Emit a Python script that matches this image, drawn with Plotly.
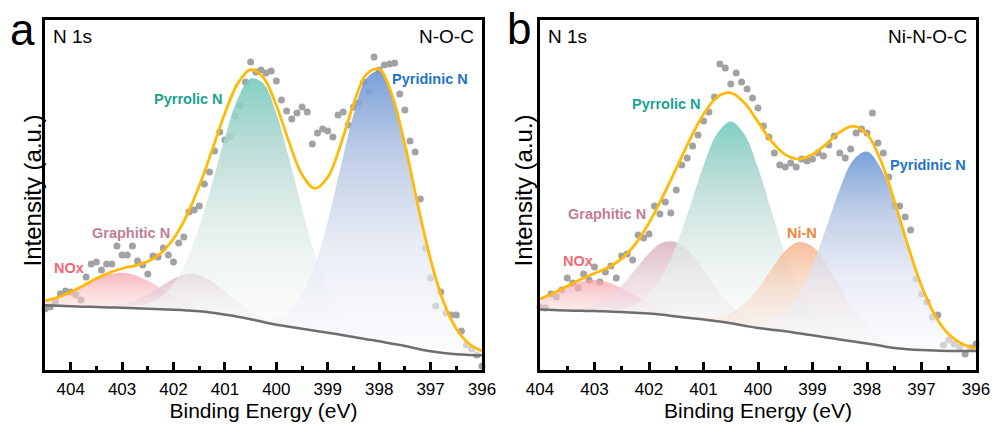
import numpy as np
import plotly.graph_objects as go

# ---------------- N 1s, N-O-C ----------------
# measured points, every 0.1 eV starting at 404.6 eV (high -> low BE)
noc_first_ev = 404.6
noc_counts = [72, 61, 63, 68, 76, 79, 78, 75, 70, 93,
              106, 108, 100, 106, 106, 124, 115, 115, 124, 109,
              105, 96, 114, 113, 122, 115, 108, 127, 133, 158,
              160, 164, 186, 198, 219, 238, 230, 234, 254, 264,
              288, 308, 298, 300, 297, 299, 289, 270, 259, 251,
              257, 263, 258, 226, 237, 241, 239, 233, 255, 258,
              245, 263, 267, 288, 278, 313, 300, 305, 306, 307,
              276, 260, 229, 218, 171, 122, 92, 64, 78, 57,
              55, 55, 39, 25, 21, 15, 4]
# Shirley background, every 0.25 eV from 404.5 eV
noc_bg_first_ev = 404.5
noc_bg = [64.7, 64.2, 63.7, 63.3, 63.0, 62.6, 62.3, 61.8, 61.3, 60.8,
          60.3, 59.6, 58.7, 57.2, 55.3, 53.2, 50.7, 48.0, 45.3, 43.3,
          41.3, 39.3, 37.3, 35.2, 33.0, 30.8, 28.7, 26.3, 24.0, 21.2,
          18.7, 17.0, 15.7, 15.0, 14.7]
# fitted components
noc_names = ["NOx", "Graphitic N", "Pyrrolic N", "Pyridinic N"]
noc_center = [403.0, 401.62, 400.40, 398.05]
noc_fwhm = [1.75, 1.50, 1.78, 1.68]
noc_height = [35, 37, 243, 271]

# ---------------- N 1s, Ni-N-O-C ----------------
nioc_first_ev = 404.1
nioc_counts = [70, 63, 62, 76, 73, 80, 92, 87, 82, 96,
               90, 103, 88, 98, 104, 92, 114, 116, 110, 135,
               132, 136, 164, 156, 168, 157, 180, 205, 212, 224,
               235, 249, 258, 273, 306, 302, 286, 297, 288, 281,
               272, 262, 244, 233, 217, 205, 203, 207, 203, 211,
               209, 211, 217, 214, 225, 234, 217, 212, 221, 237,
               241, 237, 257, 227, 217, 193, 164, 164, 153, 140,
               91, 76, 68, 53, 55, 25, 30, 26, 23, 16,
               22, 26]
nioc_bg_first_ev = 404.0
nioc_bg = [60.5, 60.0, 59.5, 59.2, 59.0, 58.5, 58.0, 57.3, 56.5, 55.2,
           53.5, 52.0, 50.5, 48.7, 46.7, 44.3, 42.0, 40.3, 38.7, 36.7,
           34.7, 32.6, 30.5, 28.5, 26.5, 24.2, 22.0, 20.8, 20.0, 19.4,
           19.0, 19.0, 19.0]
nioc_names = ["NOx", "Graphitic N", "Pyrrolic N", "Ni-N", "Pyridinic N"]
nioc_center = [403.0, 401.58, 400.48, 399.17, 398.02]
nioc_fwhm = [1.60, 1.50, 1.66, 1.50, 1.62]
nioc_height = [31, 75, 202, 92, 192]

# ---------------- styling ----------------
FONT = "Arial, Liberation Sans, sans-serif"
DOT = "#a2a2a2"
ENVELOPE = "#FFB908"
BASELINE = "#6e6e6e"
# label colour and the vertical fill gradient (baseline -> peak top)
LABEL_COLOR = {
    "NOx": "#F36872", "Graphitic N": "#C27C95", "Pyrrolic N": "#1AA391",
    "Pyridinic N": "#1E74C6", "Ni-N": "#F0843C",
}
FILL_SCALE = {
    "NOx": [[0, "rgba(251,222,224,0.55)"], [0.5, "rgba(249,192,196,0.65)"],
            [1, "rgba(246,160,166,0.75)"]],
    "Graphitic N": [[0, "rgba(242,232,236,0.55)"], [0.5, "rgba(228,200,211,0.62)"],
                    [1, "rgba(208,160,178,0.72)"]],
    "Pyrrolic N": [[0, "rgba(247,250,249,0.55)"], [0.35, "rgba(224,236,233,0.75)"],
                   [0.7, "rgba(178,216,209,0.85)"], [1, "rgba(114,202,189,0.9)"]],
    "Pyridinic N": [[0, "rgba(247,248,252,0.55)"], [0.35, "rgba(225,230,242,0.75)"],
                    [0.7, "rgba(178,195,226,0.85)"], [1, "rgba(106,150,213,0.9)"]],
    "Ni-N": [[0, "rgba(247,236,230,0.5)"], [0.5, "rgba(246,208,186,0.62)"],
             [1, "rgba(245,172,128,0.8)"]],
}

X_DOMAINS = [[0.0453, 0.4854], [0.5438, 0.9829]]
Y_DOMAIN = [0.1294, 0.9529]
Y_RANGE = [0, 350]


def gaussian(x, c, fwhm, h):
    s = fwhm / (2.0 * np.sqrt(2.0 * np.log(2.0)))
    return h * np.exp(-(x - c) ** 2 / (2.0 * s * s))


fig = go.Figure()


def add_panel(k, first_ev, counts, bg_first_ev, bg, names, centers, fwhms, heights):
    xa = "x" if k == 0 else "x2"
    ya = "y" if k == 0 else "y2"
    ev = np.round(first_ev - 0.1 * np.arange(len(counts)), 2)
    grid = np.round(bg_first_ev - 0.25 * np.arange(len(bg)), 3)
    base = np.array(bg, dtype=float)

    fig.add_trace(go.Scatter(x=ev, y=counts, mode="markers", xaxis=xa, yaxis=ya,
                             marker=dict(size=7, color=DOT), cliponaxis=False,
                             showlegend=False, hoverinfo="x+y"))
    total = base.copy()
    for name, c, w, h in zip(names, centers, fwhms, heights):
        comp = gaussian(grid, c, w, h)
        total = total + comp
        foot = float(base[np.argmax(comp)])
        fig.add_trace(go.Scatter(x=grid, y=base, mode="lines", xaxis=xa, yaxis=ya,
                                 line=dict(width=0, shape="spline"),
                                 showlegend=False, hoverinfo="skip"))
        fig.add_trace(go.Scatter(x=grid, y=base + comp, mode="lines", xaxis=xa, yaxis=ya,
                                 line=dict(width=0, shape="spline"), fill="tonexty",
                                 fillgradient=dict(type="vertical", start=foot,
                                                   stop=foot + h,
                                                   colorscale=FILL_SCALE[name]),
                                 name=name, showlegend=False, hoverinfo="skip"))
    fig.add_trace(go.Scatter(x=grid, y=base, mode="lines", xaxis=xa, yaxis=ya,
                             line=dict(color=BASELINE, width=2.5, shape="spline"),
                             showlegend=False, hoverinfo="skip"))
    fig.add_trace(go.Scatter(x=grid, y=total, mode="lines", xaxis=xa, yaxis=ya,
                             line=dict(color=ENVELOPE, width=2.8, shape="spline"),
                             showlegend=False, hoverinfo="skip"))


add_panel(0, noc_first_ev, noc_counts, noc_bg_first_ev, noc_bg,
          noc_names, noc_center, noc_fwhm, noc_height)
add_panel(1, nioc_first_ev, nioc_counts, nioc_bg_first_ev, nioc_bg,
          nioc_names, nioc_center, nioc_fwhm, nioc_height)

xaxis_common = dict(showline=True, linecolor="black", linewidth=2.6, mirror=True,
                    ticks="inside", ticklen=8, tickwidth=2.6, tickcolor="black",
                    showgrid=False, zeroline=False, ticklabelstandoff=2,
                    minor=dict(ticks="inside", ticklen=4, tickwidth=2.6,
                               tickcolor="black", dtick=0.5, showgrid=False),
                    tickfont=dict(family=FONT, size=17, color="black"),
                    title=dict(text="Binding Energy (eV)",
                               font=dict(family=FONT, size=21, color="black"),
                               standoff=3),
                    automargin=False)
yaxis_common = dict(showline=True, linecolor="black", linewidth=2.6, mirror=True,
                    ticks="", showticklabels=False, showgrid=False, zeroline=False,
                    range=Y_RANGE, domain=Y_DOMAIN, automargin=False)

TICKS = [404, 403, 402, 401, 400, 399, 398, 397, 396]
fig.update_layout(
    width=993, height=425, margin=dict(l=0, r=0, t=0, b=0),
    paper_bgcolor="white", plot_bgcolor="white",
    font=dict(family=FONT, color="black"),
    xaxis=dict(xaxis_common, domain=X_DOMAINS[0], range=[404.5, 396],
               anchor="y", tickvals=TICKS),
    yaxis=dict(yaxis_common, anchor="x"),
    xaxis2=dict(xaxis_common, domain=X_DOMAINS[1], range=[404, 396],
                anchor="y2", tickvals=TICKS),
    yaxis2=dict(yaxis_common, anchor="x2"),
)

# component labels, placed beside their peaks (data coordinates)
labels = [
    ("x", "y", "Pyrrolic N", 401.71, 271),
    ("x", "y", "Pyridinic N", 397.01, 291),
    ("x", "y", "Graphitic N", 402.82, 137),
    ("x", "y", "NOx", 404.04, 102),
    ("x2", "y2", "Pyrrolic N", 401.67, 266),
    ("x2", "y2", "Pyridinic N", 396.88, 205),
    ("x2", "y2", "Graphitic N", 402.77, 156),
    ("x2", "y2", "NOx", 403.31, 109),
    ("x2", "y2", "Ni-N", 399.19, 137.5),
]
for xr, yr, txt, x, y in labels:
    fig.add_annotation(xref=xr, yref=yr, x=x, y=y, text=txt, showarrow=False,
                       font=dict(family=FONT, size=14.5, color=LABEL_COLOR[txt],
                                 weight="bold"),
                       xanchor="center", yanchor="middle")

# panel letters, in-frame captions and y titles (paper coordinates)
W, H = 993.0, 425.0
texts = [
    ("a", 22, 30, 44, "center", 0),
    ("b", 519, 28, 44, "center", 0),
    ("N 1s", 51, 36, 19, "left", 0),
    ("N-O-C", 476, 36, 19, "right", 0),
    ("N 1s", 546, 36, 19, "left", 0),
    ("Ni-N-O-C", 969, 36, 19, "right", 0),
    ("Intensity (a.u.)", 31.5, 191, 24, "center", -90),
    ("Intensity (a.u.)", 522.5, 191, 24, "center", -90),
]
for txt, px, py, size, anchor, angle in texts:
    fig.add_annotation(xref="paper", yref="paper", x=px / W, y=1 - py / H, text=txt,
                       showarrow=False, xanchor=anchor, yanchor="middle",
                       textangle=angle,
                       font=dict(family=FONT, size=size, color="black"))

fig.write_html("out.html")
